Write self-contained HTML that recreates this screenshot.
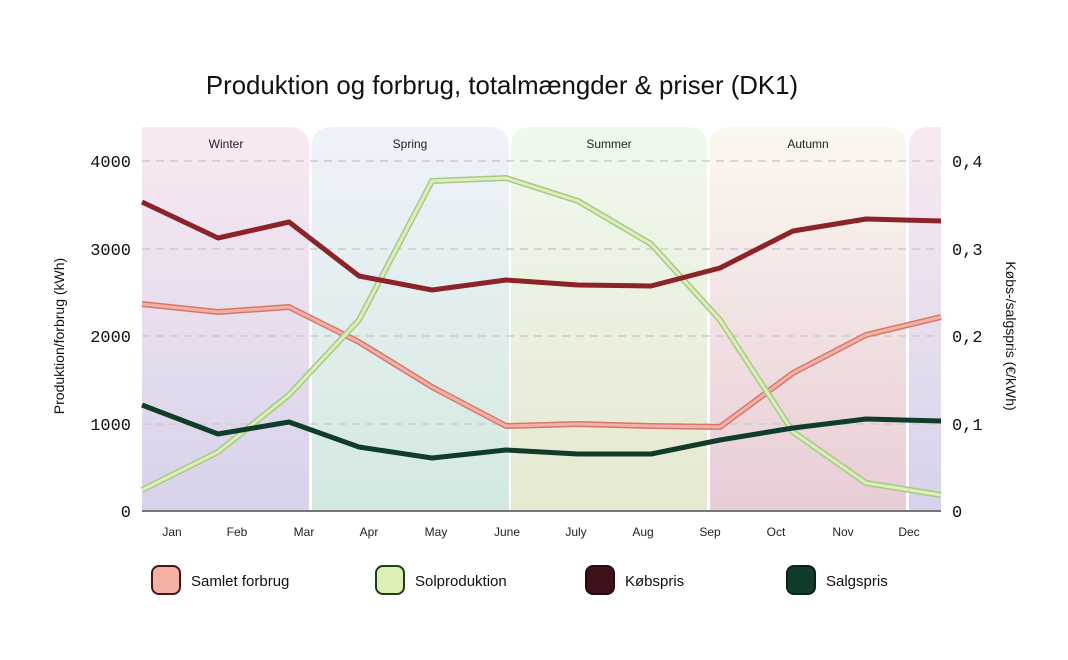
<!DOCTYPE html>
<html><head><meta charset="utf-8"><style>body{margin:0;background:#fff}svg{display:block}</style></head><body>
<svg width="1068" height="660" viewBox="0 0 1068 660" xmlns="http://www.w3.org/2000/svg" font-family="Liberation Sans, sans-serif">
<defs>
<linearGradient id="gw" x1="0" y1="0" x2="0" y2="1"><stop offset="0" stop-color="#f9e9f2"/><stop offset="1" stop-color="#d7d2ea"/></linearGradient>
<linearGradient id="gs" x1="0" y1="0" x2="0" y2="1"><stop offset="0" stop-color="#eff2fb"/><stop offset="1" stop-color="#d3e9df"/></linearGradient>
<linearGradient id="gu" x1="0" y1="0" x2="0" y2="1"><stop offset="0" stop-color="#eff9ee"/><stop offset="1" stop-color="#e6e8d0"/></linearGradient>
<linearGradient id="ga" x1="0" y1="0" x2="0" y2="1"><stop offset="0" stop-color="#fbf8ef"/><stop offset="1" stop-color="#e8ccd6"/></linearGradient>
</defs>
<text x="502" y="94" font-size="25.8" text-anchor="middle" fill="#111">Produktion og forbrug, totalmængder &amp; priser (DK1)</text>
<path d="M142 127H289Q309 127 309 147V511H142Z" fill="url(#gw)"/>
<path d="M312 147Q312 127 332 127H489Q509 127 509 147V511H312Z" fill="url(#gs)"/>
<path d="M511 147Q511 127 531 127H687Q707 127 707 147V511H511Z" fill="url(#gu)"/>
<path d="M710 147Q710 127 730 127H886Q906 127 906 147V511H710Z" fill="url(#ga)"/>
<path d="M909 147Q909 127 929 127H941V511H909Z" fill="url(#gw)"/>
<g font-size="12" fill="#222" text-anchor="middle">
<text x="226" y="148">Winter</text><text x="410" y="148">Spring</text><text x="609" y="148">Summer</text><text x="808" y="148">Autumn</text></g>
<g stroke="#ccc" stroke-width="1.5" stroke-dasharray="8 6">
<line x1="142" y1="161" x2="941" y2="161"/><line x1="142" y1="249" x2="941" y2="249"/><line x1="142" y1="336" x2="941" y2="336"/><line x1="142" y1="424" x2="941" y2="424"/></g>
<line x1="142" y1="511" x2="941" y2="511" stroke="#777" stroke-width="2"/>
<g font-family="Liberation Mono, monospace" font-size="17" fill="#111">
<g text-anchor="end"><text x="131" y="167">4000</text><text x="131" y="255">3000</text><text x="131" y="342">2000</text><text x="131" y="430">1000</text><text x="131" y="517">0</text></g>
<text x="952" y="167">0,4</text><text x="952" y="255">0,3</text><text x="952" y="342">0,2</text><text x="952" y="430">0,1</text><text x="952" y="517">0</text></g>
<text transform="translate(64,336) rotate(-90)" font-size="14" text-anchor="middle" fill="#111">Produktion/forbrug (kWh)</text>
<text transform="translate(1006,336) rotate(90)" font-size="14" text-anchor="middle" fill="#111">Købs-/salgspris (€/kWh)</text>
<g font-size="12" fill="#222" text-anchor="middle">
<text x="172" y="536">Jan</text><text x="237" y="536">Feb</text><text x="304" y="536">Mar</text><text x="369" y="536">Apr</text><text x="436" y="536">May</text><text x="507" y="536">June</text><text x="576" y="536">July</text><text x="643" y="536">Aug</text><text x="710" y="536">Sep</text><text x="776" y="536">Oct</text><text x="843" y="536">Nov</text><text x="909" y="536">Dec</text></g>
<g fill="none" stroke-linejoin="round">
<polyline points="142,304 218,312 289,307 359,342 432,387 506,426 578,424 651,426 720,427 793,373 866,335 941,317" stroke="#d4776c" stroke-width="6"/>
<polyline points="142,304 218,312 289,307 359,342 432,387 506,426 578,424 651,426 720,427 793,373 866,335 941,317" stroke="#f5b0a4" stroke-width="3"/>
<polyline points="142,490 218,452 289,395 359,320 432,181 506,178 578,201 651,244 720,320 793,432 866,483 941,495" stroke="#a6c88a" stroke-width="6"/>
<polyline points="142,490 218,452 289,395 359,320 432,181 506,178 578,201 651,244 720,320 793,432 866,483 941,495" stroke="#dcf0b6" stroke-width="3"/>
<polyline points="142,202 218,238 289,222 359,276 432,290 506,280 578,285 651,286 720,268 793,231 866,219 941,221" stroke="#8b2328" stroke-width="5"/>
<polyline points="142,405 218,434 289,422 359,447 432,458 506,450 578,454 651,454 720,440 793,428 866,419 941,421" stroke="#0f3d2a" stroke-width="5"/>
</g>
<g stroke-width="2">
<rect x="152" y="566" width="28" height="28" rx="7" fill="#f5b0a4" stroke="#4a1518"/>
<rect x="376" y="566" width="28" height="28" rx="7" fill="#dcf0b6" stroke="#1f3d18"/>
<rect x="586" y="566" width="28" height="28" rx="7" fill="#3f111b" stroke="#2a0a10"/>
<rect x="787" y="566" width="28" height="28" rx="7" fill="#0f3d2a" stroke="#082418"/>
</g>
<g font-size="15" fill="#111"><text x="191" y="586">Samlet forbrug</text><text x="415" y="586">Solproduktion</text><text x="625" y="586">Købspris</text><text x="826" y="586">Salgspris</text></g>
</svg>
</body></html>
